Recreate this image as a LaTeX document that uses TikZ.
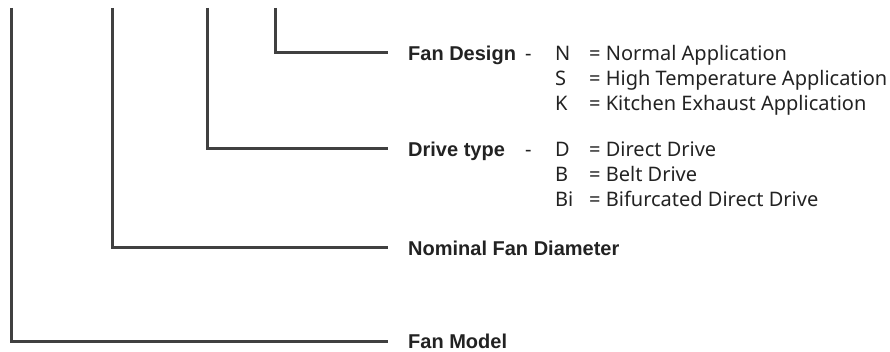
\documentclass[tikz,border=0pt]{standalone}
\usepackage{fontspec}
\setmainfont{Noto Sans}
\newfontfamily\headfont{Liberation Sans}
\usepackage{xcolor}
\usetikzlibrary{positioning, calc}

\definecolor{linegray}{HTML}{404040}
\definecolor{textgray}{HTML}{222222}

\begin{document}
\begin{tikzpicture}[
    x=1pt, y=-1pt,
    lead/.style={line width=3pt, draw=linegray},
    txt/.style={anchor=west, inner sep=0pt, text height=14.3pt, text depth=0pt, font=\fontsize{20}{22}\selectfont, text=textgray},
    head/.style={txt, font=\headfont\fontsize{20}{22}\selectfont\bfseries},
]
\useasboundingbox (0,0) rectangle (890,352);

% Top ends of the leaders
\coordinate (modeltop) at (11,8);
\coordinate (diamtop) at (112,8);
\coordinate (drivetop) at (207,8);
\coordinate (designtop) at (275,8);

% Headings
\node[head] (design) at (408,53) {Fan Design};
\node[head] (drive) at (408,149) {Drive type};
\node[head] (diam) at (408,248) {Nominal Fan Diameter};
\node[head] (model) at (408,341) {Fan Model};

% Fan design codes
\node[txt] (designdash) at (525,53) {-};
\foreach \c/\t [count=\i] in {N/Normal Application, S/High Temperature Application, K/Kitchen Exhaust Application} {
    \node[txt] (designcode\i) at (555,53+25*\i-25) {\c};
    \node[txt] (designtext\i) at (589,53+25*\i-25) {= \t};
}

% Drive type codes
\node[txt] (drivedash) at (525,149) {-};
\foreach \c/\t [count=\i] in {D/Direct Drive, B/Belt Drive, Bi/Bifurcated Direct Drive} {
    \node[txt] (drivecode\i) at (555,149+25*\i-25) {\c};
    \node[txt] (drivetext\i) at (589,149+25*\i-25) {= \t};
}

% Leaders
\draw[lead] (designtop) |- ([xshift=-20pt]design.west);
\draw[lead] (drivetop) |- ([xshift=-20pt]drive.west);
\draw[lead] (diamtop) |- ([xshift=-20pt]diam.west);
\draw[lead] (modeltop) |- ([xshift=-20pt]model.west);

\end{tikzpicture}
\end{document}
